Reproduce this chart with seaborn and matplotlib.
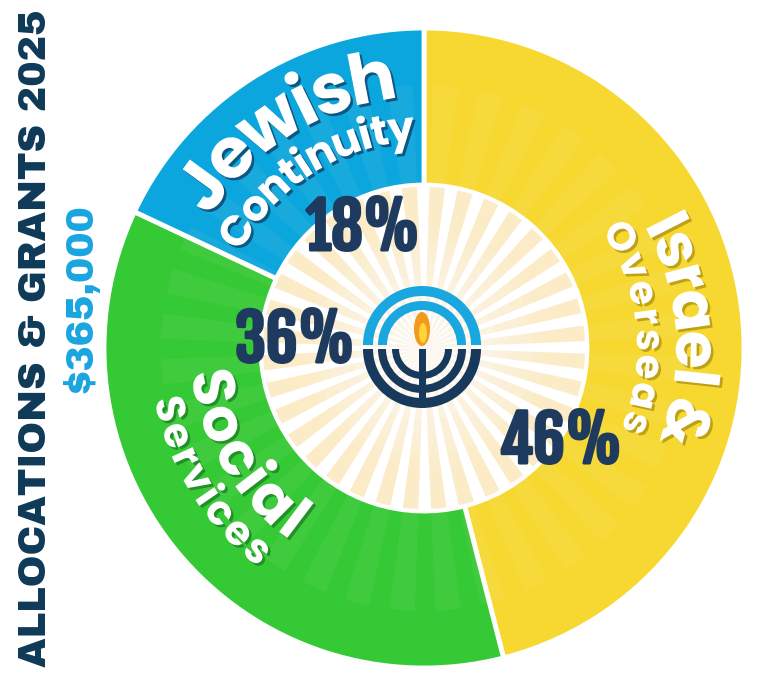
import numpy as np
import pandas as pd
import seaborn as sns
import matplotlib.pyplot as plt
from matplotlib import patches
from matplotlib import patheffects as pe
from matplotlib import font_manager as fm
from matplotlib.ft2font import FT2Font

# data
categories = ['Israel & Overseas', 'Social Services', 'Jewish Continuity']
shares = [46, 36, 18]
colors = ['#F6D831', '#35C935', '#0BA6DE']
pct_labels = ['46%', '36%', '18%']
title = 'ALLOCATIONS & GRANTS 2025'
total = '$365,000'

df = pd.DataFrame({'category': categories, 'share': shares})

sns.set_theme(style='white')
palette = sns.color_palette(colors)

W, H = 773, 675
cx, cy = 424, 327
r_out, r_in = 320, 163


def face(family, weight):
    best, best_w = None, None
    for f in fm.fontManager.ttflist:
        if f.name != family or f.style != 'normal':
            continue
        w = f.weight if isinstance(f.weight, int) else fm.weight_dict.get(f.weight, 400)
        if best is None or abs(w - weight) < abs(best_w - weight):
            best, best_w = f.fname, w
    return best, best_w


def pick(cands):
    # (family, wanted weight, lowest weight accepted)
    for fam, wt, low in cands:
        path, w = face(fam, wt)
        if path and w >= low:
            return path
    return fm.findfont(fm.FontProperties(family='DejaVu Sans', weight='bold'))


pct_path = pick([('Fjalla One', 400, 400), ('Oswald', 700, 600),
                 ('Roboto Condensed', 700, 700), ('Open Sans Condensed', 700, 700)])
label_path = pick([('Montserrat', 700, 700), ('Poppins', 700, 700), ('Lato', 900, 700),
                   ('Nunito', 800, 700), ('Open Sans', 800, 700)])
title_path = pick([('Archivo Black', 400, 400), ('Montserrat', 900, 800),
                   ('Poppins', 900, 800)])


def cap_ratio(path):
    f = FT2Font(path)
    f.set_size(100, 72)
    return f.load_char(ord('H')).height / 64 / 100


def advances(path, text, em):
    f = FT2Font(path)
    f.set_size(em, 72)
    return np.array([f.load_char(ord(c)).linearHoriAdvance / 65536 for c in text])


fig = plt.figure(figsize=(W / 100, H / 100), dpi=100)
ax = fig.add_axes([0, 0, 1, 1])

ax.pie(df['share'], colors=palette, startangle=90, counterclock=False,
       radius=r_out, center=(cx, cy),
       wedgeprops=dict(width=r_out - r_in, edgecolor='white', linewidth=3.5))

# sunburst in the middle
ax.add_patch(patches.Circle((cx, cy), r_in - 1, fc='white', ec='none', zorder=2))
for k in range(36):
    t1 = k * 10 + 2.5
    ax.add_patch(patches.Wedge((cx, cy), r_in - 2, t1, t1 + 5.5,
                               fc='#FBEBC6', ec='none', zorder=2))
    ax.add_patch(patches.Wedge((cx, cy), r_in + 100, t1, t1 + 5.5, width=102,
                               fc='#FFF6DA', ec='none', alpha=0.06, zorder=2))
for rr in range(120, 20, -12):
    ax.add_patch(patches.Circle((cx, cy), rr, fc='white', ec='none',
                                alpha=0.12, zorder=2))

# logo
lx, ly = 422, 328
blue, navy = '#1AA6DF', '#173A5C'
for rr, wd in [(59, 10), (44, 9)]:
    ax.add_patch(patches.Wedge((lx, ly + 2), rr, 0, 180, width=wd, fc=blue, ec='none', zorder=3))
for rr, wd in [(59, 10), (44, 8), (30, 7)]:
    ax.add_patch(patches.Wedge((lx, ly - 2), rr, 180, 360, width=wd, fc=navy, ec='none', zorder=3))
ax.add_patch(patches.Rectangle((lx - 3.5, ly - 2 - 54), 7, 54, fc=navy, ec='none', zorder=3))
ax.add_patch(patches.Ellipse((lx, ly + 18), 16, 34, fc='#F39A1E', ec='none', zorder=3))
ax.add_patch(patches.Ellipse((lx + 1, ly + 14), 8, 20, fc='#FFD43B', ec='none', zorder=3))

# percentages
pct_fp = fm.FontProperties(fname=pct_path)
pct_em = 52 / cap_ratio(pct_path)
pct_pos = [(561, 212), (295, 313), (363, 425)]
for lab, (x, y) in zip(pct_labels, pct_pos):
    ax.text(x, y, lab, ha='center', va='baseline', fontproperties=pct_fp,
            fontsize=pct_em * 0.72, color='#1E3A5E', zorder=6,
            path_effects=[pe.withStroke(linewidth=2.2, foreground='#1E3A5E')])

label_fp = fm.FontProperties(fname=label_path)


def arc_text(text, r_mid, a0, a1, cap, shadow, inward=False):
    em = cap / cap_ratio(label_path)
    span = abs(a1 - a0) * np.pi / 180 * r_mid
    adv = advances(label_path, text, em)
    centers = np.cumsum(adv) - adv / 2
    centers -= centers[0]
    if centers[-1] > span:
        # letters too wide for the arc: shrink instead of overlapping
        em *= span / centers[-1]
        cap = em * cap_ratio(label_path)
        centers *= span / centers[-1]
    else:
        centers = centers + (span - centers[-1]) / (len(text) - 1) * np.arange(len(text))
    if inward:
        r_base, sign, rot = r_mid + cap / 2, 1, 90
    else:
        r_base, sign, rot = r_mid - cap / 2, -1, -90
    for c, s in zip(text, centers):
        if c == ' ':
            continue
        th = a0 + sign * np.degrees(s / r_mid)
        x = cx + r_base * np.cos(np.radians(th))
        y = cy + r_base * np.sin(np.radians(th))
        ax.text(x, y, c, rotation=th + rot, rotation_mode='anchor',
                ha='center', va='baseline', fontproperties=label_fp,
                fontsize=em * 0.72, color='white', zorder=5,
                path_effects=[pe.withSimplePatchShadow(offset=(1.8, -1.8),
                                                       shadow_rgbFace=shadow, alpha=0.9)])


arc_text('Jewish', 276, 144, 101, 56, '#0B4F78')
arc_text('Continuity', 222, 148, 96, 31, '#0B4F78')
arc_text('Israel &', 274, 27, -16, 45, '#B99B12')
arc_text('Overseas', 227, 29.5, -19.5, 28, '#B99B12')
arc_text('Social', 213, 190.5, 233, 46, '#1E8A26', inward=True)
arc_text('Services', 260, 193.5, 230.5, 29, '#1E8A26', inward=True)

# side title, sized to its length in the reference
title_fp = fm.FontProperties(fname=title_path)
t_em = 657 / advances(title_path, title, 100).sum() * 100
ax.text(36, 337, title, rotation=90, ha='center', va='center', fontproperties=title_fp,
        fontsize=t_em * 0.72, color='#0E3A58')
d_em = 190 / advances(title_path, total, 100).sum() * 100
ax.text(81, 377, total, rotation=90, ha='center', va='center', fontproperties=title_fp,
        fontsize=d_em * 0.72, color='#1AA5E0')

ax.set_xlim(0, W)
ax.set_ylim(0, H)
ax.set_aspect('equal')
ax.axis('off')

plt.savefig('out.png', dpi=100, facecolor='white')
